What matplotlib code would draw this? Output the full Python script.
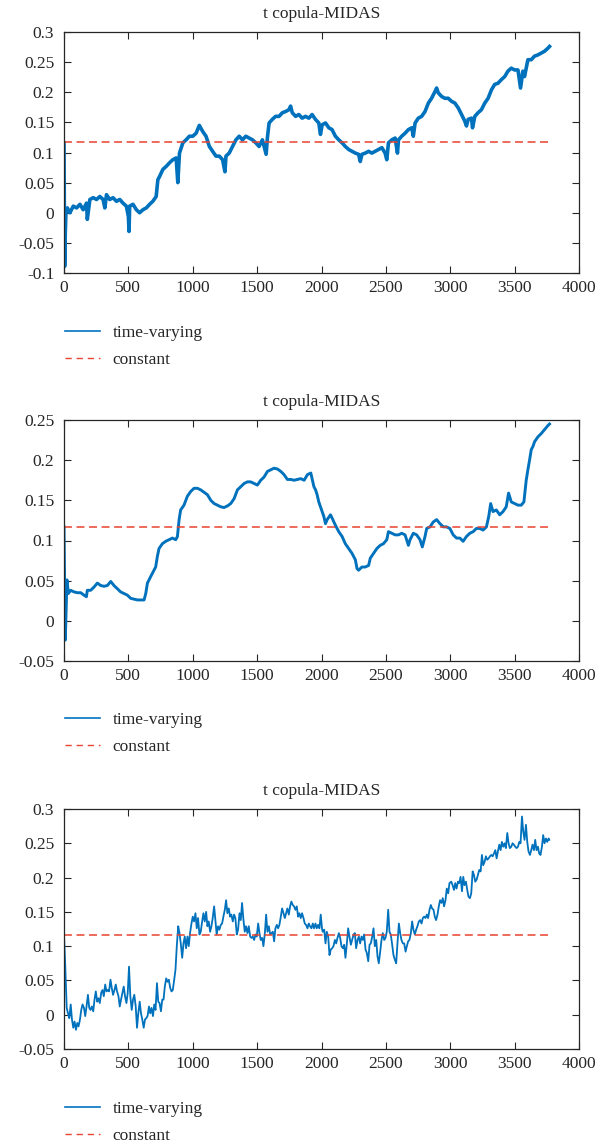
import numpy as np
import matplotlib
matplotlib.use("Agg")
import matplotlib.pyplot as plt
from matplotlib.ticker import FuncFormatter, MultipleLocator
from matplotlib.lines import Line2D

plt.rcParams['font.family'] = ['Liberation Serif', 'DejaVu Serif']
plt.rcParams['axes.unicode_minus'] = False

TITLE = "t copula-MIDAS"
LABELS = ["time-varying", "constant"]
CONST = 0.1166
T_END = 3780

# ---------------- Panel 1 ----------------
t1 = [0, 5, 10, 15, 26, 46, 72, 98, 124, 149,
      175, 181, 201, 227, 253, 278, 304, 317, 330, 355,
      381, 407, 433, 458, 484, 500, 505, 510, 536, 562,
      587, 613, 639, 665, 690, 716, 729, 742, 768, 794,
      820, 845, 871, 884, 897, 923, 948, 974, 1000, 1026,
      1051, 1077, 1103, 1129, 1155, 1180, 1206, 1232, 1250, 1258,
      1283, 1309, 1335, 1361, 1386, 1412, 1438, 1464, 1490, 1515,
      1541, 1570, 1580, 1593, 1618, 1644, 1670, 1696, 1721, 1747,
      1760, 1773, 1799, 1824, 1850, 1876, 1902, 1927, 1953, 1979,
      1992, 2005, 2031, 2057, 2082, 2108, 2134, 2160, 2185, 2211,
      2237, 2263, 2288, 2301, 2314, 2340, 2366, 2391, 2417, 2443,
      2469, 2494, 2507, 2520, 2546, 2572, 2590, 2598, 2623, 2649,
      2675, 2701, 2713, 2727, 2752, 2778, 2804, 2830, 2855, 2881,
      2894, 2907, 2933, 2958, 2984, 3010, 3036, 3062, 3088, 3113,
      3126, 3139, 3165, 3173, 3191, 3216, 3242, 3268, 3294, 3320,
      3345, 3371, 3397, 3423, 3448, 3474, 3500, 3526, 3546, 3564,
      3577, 3603, 3629, 3655, 3681, 3706, 3732, 3758, 3771]
v1 = [0.116, -0.089, -0.033, 0.000, 0.008, 0.000, 0.011, 0.008, 0.014, 0.005,
      0.016, -0.011, 0.022, 0.025, 0.022, 0.027, 0.022, 0.008, 0.030, 0.022,
      0.025, 0.019, 0.022, 0.016, 0.011, -0.006, -0.031, 0.011, 0.014, 0.005,
      0.000, 0.005, 0.008, 0.014, 0.019, 0.027, 0.055, 0.060, 0.072, 0.077,
      0.083, 0.088, 0.091, 0.050, 0.099, 0.116, 0.121, 0.127, 0.127, 0.132,
      0.145, 0.135, 0.127, 0.110, 0.102, 0.094, 0.094, 0.088, 0.068, 0.094,
      0.099, 0.110, 0.121, 0.127, 0.121, 0.127, 0.124, 0.121, 0.116, 0.110,
      0.121, 0.097, 0.125, 0.149, 0.155, 0.160, 0.160, 0.166, 0.168, 0.171,
      0.177, 0.166, 0.160, 0.163, 0.157, 0.160, 0.157, 0.163, 0.155, 0.149,
      0.130, 0.146, 0.149, 0.141, 0.138, 0.127, 0.121, 0.116, 0.110, 0.105,
      0.102, 0.099, 0.097, 0.085, 0.097, 0.099, 0.102, 0.099, 0.102, 0.105,
      0.108, 0.099, 0.088, 0.116, 0.121, 0.124, 0.099, 0.121, 0.127, 0.132,
      0.138, 0.141, 0.127, 0.149, 0.157, 0.160, 0.168, 0.182, 0.190, 0.201,
      0.207, 0.199, 0.193, 0.190, 0.190, 0.185, 0.182, 0.174, 0.163, 0.152,
      0.144, 0.155, 0.157, 0.141, 0.160, 0.166, 0.171, 0.182, 0.190, 0.204,
      0.213, 0.215, 0.221, 0.226, 0.235, 0.240, 0.237, 0.237, 0.207, 0.235,
      0.226, 0.254, 0.254, 0.260, 0.262, 0.265, 0.268, 0.273, 0.276]

# ---------------- Panel 2 ----------------
t2 = [0, 5, 10, 16, 23, 34, 52, 78, 104, 130,
      155, 174, 181, 207, 233, 259, 285, 311, 337, 363,
      388, 414, 440, 466, 492, 518, 544, 570, 596, 622,
      635, 648, 673, 699, 712, 725, 738, 764, 790, 816,
      842, 868, 881, 894, 906, 932, 958, 984, 1010, 1036,
      1062, 1088, 1114, 1140, 1166, 1191, 1217, 1243, 1269, 1295,
      1321, 1347, 1373, 1399, 1425, 1450, 1476, 1502, 1528, 1554,
      1580, 1606, 1632, 1658, 1684, 1709, 1735, 1761, 1787, 1813,
      1839, 1865, 1891, 1917, 1941, 1954, 1966, 1979, 1992, 2005,
      2018, 2031, 2044, 2070, 2082, 2108, 2134, 2160, 2185, 2211,
      2237, 2263, 2276, 2288, 2314, 2340, 2366, 2379, 2404, 2430,
      2456, 2481, 2507, 2520, 2546, 2572, 2598, 2623, 2649, 2675,
      2688, 2713, 2739, 2765, 2783, 2804, 2817, 2843, 2868, 2894,
      2920, 2946, 2971, 2997, 3023, 3049, 3075, 3100, 3126, 3152,
      3178, 3203, 3229, 3255, 3281, 3299, 3314, 3332, 3358, 3384,
      3410, 3435, 3453, 3474, 3500, 3526, 3551, 3572, 3590, 3603,
      3616, 3629, 3642, 3655, 3681, 3706, 3732, 3758, 3771]
v2 = [0.117, 0.042, -0.024, 0.009, 0.051, 0.034, 0.038, 0.036, 0.035, 0.035,
      0.032, 0.030, 0.038, 0.038, 0.042, 0.047, 0.044, 0.043, 0.044, 0.049,
      0.044, 0.040, 0.036, 0.034, 0.032, 0.028, 0.027, 0.026, 0.026, 0.026,
      0.034, 0.047, 0.055, 0.063, 0.067, 0.080, 0.090, 0.096, 0.099, 0.101,
      0.103, 0.101, 0.105, 0.126, 0.138, 0.144, 0.155, 0.161, 0.165, 0.165,
      0.163, 0.160, 0.157, 0.150, 0.146, 0.144, 0.142, 0.141, 0.143, 0.146,
      0.152, 0.163, 0.167, 0.171, 0.173, 0.173, 0.171, 0.169, 0.175, 0.179,
      0.186, 0.188, 0.190, 0.189, 0.186, 0.182, 0.176, 0.176, 0.175, 0.176,
      0.177, 0.175, 0.182, 0.184, 0.167, 0.163, 0.157, 0.148, 0.142, 0.136,
      0.130, 0.121, 0.126, 0.132, 0.128, 0.119, 0.111, 0.105, 0.096, 0.090,
      0.084, 0.076, 0.065, 0.063, 0.067, 0.067, 0.069, 0.078, 0.084, 0.090,
      0.094, 0.096, 0.101, 0.111, 0.109, 0.107, 0.107, 0.109, 0.107, 0.094,
      0.101, 0.109, 0.107, 0.101, 0.092, 0.105, 0.115, 0.117, 0.123, 0.126,
      0.121, 0.117, 0.117, 0.115, 0.107, 0.103, 0.103, 0.099, 0.105, 0.109,
      0.111, 0.115, 0.115, 0.113, 0.117, 0.130, 0.146, 0.136, 0.138, 0.132,
      0.136, 0.142, 0.159, 0.148, 0.146, 0.144, 0.144, 0.148, 0.175, 0.188,
      0.200, 0.213, 0.217, 0.223, 0.229, 0.233, 0.238, 0.243, 0.245]

# ---------------- Panel 3 ----------------
t3 = [0, 10, 21, 31, 41, 52, 62, 72, 82, 93, 103, 113, 124, 134, 144, 155, 165, 175, 186, 196, 206,
      216, 227, 237, 247, 258, 268, 278, 289, 299, 309, 320, 330, 340, 350, 361, 371, 381, 392, 402,
      412, 423, 433, 443, 454, 464, 474, 485, 495, 505, 515, 526, 536, 546, 557, 567, 577, 588, 598,
      608, 619, 629, 639, 649, 660, 670, 680, 691, 701, 711, 722, 732, 742, 753, 763, 773, 783, 794,
      804, 814, 825, 835, 845, 856, 866, 876, 887, 897, 907, 918, 928, 938, 948, 959, 969, 979, 990,
      1000, 1010, 1021, 1031, 1041, 1052, 1062, 1073, 1083, 1093, 1104, 1114, 1124, 1135, 1145, 1155,
      1166, 1176, 1186, 1197, 1207, 1218, 1228, 1238, 1249, 1259, 1269, 1280, 1290, 1300, 1311, 1321,
      1331, 1342, 1352, 1363, 1373, 1383, 1394, 1404, 1414, 1425, 1435, 1446, 1456, 1466, 1477, 1487,
      1497, 1508, 1518, 1528, 1539, 1549, 1560, 1570, 1580, 1591, 1601, 1611, 1622, 1632, 1642, 1653,
      1663, 1673, 1684, 1694, 1705, 1715, 1725, 1735, 1746, 1756, 1766, 1777, 1787, 1797, 1808, 1818,
      1828, 1839, 1849, 1860, 1870, 1880, 1891, 1901, 1911, 1922, 1932, 1942, 1953, 1963, 1973, 1984,
      1994, 2005, 2010, 2021, 2031, 2041, 2052, 2062, 2072, 2083, 2093, 2104, 2114, 2124, 2135, 2145,
      2155, 2166, 2176, 2186, 2197, 2207, 2217, 2228, 2238, 2249, 2259, 2269, 2280, 2290, 2300, 2311,
      2321, 2331, 2342, 2352, 2363, 2373, 2383, 2394, 2404, 2414, 2425, 2435, 2445, 2456, 2466, 2476,
      2487, 2497, 2507, 2518, 2528, 2538, 2549, 2559, 2570, 2580, 2590, 2601, 2611, 2621, 2632, 2642,
      2653, 2663, 2673, 2683, 2694, 2704, 2714, 2725, 2735, 2745, 2756, 2766, 2777, 2787, 2797, 2808,
      2818, 2828, 2839, 2849, 2859, 2870, 2880, 2890, 2901, 2911, 2921, 2932, 2942, 2952, 2963, 2973,
      2984, 2994, 3008, 3018, 3029, 3039, 3049, 3060, 3070, 3080, 3091, 3101, 3111, 3122, 3132, 3142,
      3153, 3163, 3174, 3184, 3194, 3205, 3215, 3225, 3236, 3246, 3256, 3267, 3277, 3287, 3298, 3308,
      3318, 3329, 3339, 3350, 3360, 3370, 3381, 3391, 3401, 3412, 3422, 3432, 3443, 3453, 3463, 3474,
      3484, 3494, 3505, 3515, 3526, 3536, 3546, 3557, 3567, 3577, 3588, 3598, 3608, 3619, 3629, 3639,
      3650, 3660, 3670, 3681, 3691, 3701, 3712, 3722, 3732, 3743, 3753, 3764, 3769]
v3 = [0.117, 0.070, 0.010, 0.002, -0.005, 0.015, -0.007, -0.019, -0.010, -0.022, -0.012, -0.017,
      -0.007, 0.007, 0.015, 0.010, -0.002, 0.012, 0.029, 0.010, 0.007, 0.012, 0.005, 0.022, 0.034,
      0.019, 0.024, 0.017, 0.032, 0.036, 0.027, 0.044, 0.034, 0.036, 0.034, 0.051, 0.039, 0.029,
      0.036, 0.044, 0.034, 0.027, 0.012, 0.022, 0.032, 0.041, 0.027, 0.017, 0.032, 0.070, 0.027,
      0.007, 0.022, 0.029, 0.012, -0.019, 0.002, 0.019, 0.002, -0.007, -0.019, -0.007, -0.005,
      -0.002, 0.012, 0.002, 0.010, -0.002, 0.015, 0.007, 0.046, 0.019, 0.017, 0.005, 0.022, 0.022,
      0.041, 0.053, 0.048, 0.051, 0.039, 0.034, 0.036, 0.051, 0.066, 0.100, 0.129, 0.119, 0.104,
      0.083, 0.104, 0.114, 0.097, 0.114, 0.100, 0.119, 0.133, 0.143, 0.136, 0.148, 0.126, 0.141,
      0.117, 0.121, 0.136, 0.148, 0.136, 0.150, 0.129, 0.136, 0.121, 0.129, 0.141, 0.158, 0.138,
      0.117, 0.129, 0.124, 0.131, 0.133, 0.143, 0.153, 0.167, 0.148, 0.155, 0.143, 0.146, 0.136,
      0.146, 0.141, 0.117, 0.124, 0.148, 0.138, 0.163, 0.138, 0.121, 0.129, 0.119, 0.129, 0.114,
      0.112, 0.114, 0.109, 0.117, 0.114, 0.133, 0.119, 0.109, 0.112, 0.100, 0.119, 0.146, 0.121,
      0.129, 0.117, 0.119, 0.121, 0.107, 0.126, 0.131, 0.126, 0.131, 0.143, 0.155, 0.148, 0.141,
      0.148, 0.155, 0.146, 0.158, 0.165, 0.160, 0.158, 0.153, 0.158, 0.143, 0.148, 0.141, 0.148,
      0.141, 0.133, 0.131, 0.126, 0.133, 0.129, 0.126, 0.133, 0.126, 0.133, 0.126, 0.131, 0.126,
      0.146, 0.124, 0.121, 0.124, 0.104, 0.121, 0.114, 0.087, 0.095, 0.097, 0.100, 0.109, 0.104,
      0.112, 0.119, 0.112, 0.100, 0.097, 0.102, 0.083, 0.104, 0.126, 0.114, 0.102, 0.109, 0.117,
      0.119, 0.097, 0.109, 0.114, 0.104, 0.114, 0.109, 0.117, 0.095, 0.090, 0.078, 0.102, 0.104,
      0.114, 0.126, 0.100, 0.109, 0.085, 0.075, 0.092, 0.109, 0.119, 0.109, 0.112, 0.121, 0.153,
      0.121, 0.117, 0.102, 0.087, 0.080, 0.075, 0.104, 0.133, 0.119, 0.109, 0.104, 0.104, 0.092,
      0.100, 0.107, 0.109, 0.119, 0.136, 0.124, 0.117, 0.124, 0.129, 0.136, 0.138, 0.133, 0.141,
      0.143, 0.141, 0.146, 0.141, 0.153, 0.160, 0.155, 0.153, 0.143, 0.138, 0.146, 0.158, 0.167,
      0.163, 0.170, 0.158, 0.167, 0.184, 0.177, 0.192, 0.194, 0.189, 0.182, 0.192, 0.184, 0.194,
      0.192, 0.201, 0.180, 0.201, 0.189, 0.194, 0.182, 0.172, 0.170, 0.177, 0.209, 0.204, 0.194,
      0.197, 0.204, 0.211, 0.209, 0.233, 0.218, 0.223, 0.231, 0.226, 0.228, 0.231, 0.233, 0.231,
      0.235, 0.240, 0.228, 0.238, 0.248, 0.240, 0.252, 0.245, 0.250, 0.243, 0.265, 0.250, 0.243,
      0.245, 0.250, 0.248, 0.245, 0.243, 0.245, 0.252, 0.250, 0.289, 0.267, 0.255, 0.277, 0.252,
      0.238, 0.233, 0.240, 0.248, 0.240, 0.255, 0.240, 0.245, 0.235, 0.233, 0.245, 0.262, 0.250,
      0.257, 0.252, 0.257, 0.255]

PANELS = [
    (t1, v1, (-0.1, 0.3), 0.05, 2.6),
    (t2, v2, (-0.05, 0.25), 0.05, 2.1),
    (t3, v3, (-0.05, 0.3), 0.05, 1.3),
]
XTICKS = list(range(0, 4001, 500))

BLUE = '#0072BD'
RED = '#E8432E'
DARK = '#262626'

W, H = 616, 1146
fig = plt.figure(figsize=(W / 100, H / 100), dpi=100)

# axes boxes in pixels: (left, top, right, bottom)
boxes = [(64, 32, 579, 273), (64, 420, 579, 661), (64, 809, 579, 1049)]
legend_tops = [325, 712, 1101]


def fmt(v, pos):
    s = '%g' % round(v, 4)
    return '0' if s in ('-0', '0') else s


for (t, v, ylim, ystep, lw), (l, tp, r, b), lt in zip(PANELS, boxes, legend_tops):
    n = min(len(t), len(v))
    ax = fig.add_axes([l / W, 1 - b / H, (r - l) / W, (b - tp) / H])
    ax.plot(t[:n], v[:n], color=BLUE, lw=lw)
    ax.plot([0, T_END], [CONST, CONST], color=RED, lw=1.1, dashes=(5.2, 3.0))
    ax.set_xlim(0, 4000)
    ax.set_ylim(*ylim)
    ax.set_xticks(XTICKS)
    ax.yaxis.set_major_locator(MultipleLocator(ystep))
    ax.yaxis.set_major_formatter(FuncFormatter(fmt))
    ax.tick_params(direction='in', top=True, right=True, length=5, width=0.8,
                   labelsize=12.5, colors=DARK)
    ax.tick_params(axis='x', pad=5)
    ax.tick_params(axis='y', pad=7)
    for sp in ax.spines.values():
        sp.set_color(DARK)
        sp.set_linewidth(0.9)
    ax.set_title(TITLE, fontsize=12.5, color=DARK, pad=10)
    handles = [Line2D([], [], color=BLUE, lw=1.2),
               Line2D([], [], color=RED, lw=1.0, dashes=(4.5, 3.5))]
    ax.legend(handles=handles, labels=LABELS, loc='upper left',
              bbox_to_anchor=(65 / W, 1 - lt / H), bbox_transform=fig.transFigure,
              frameon=False, fontsize=12.5, handlelength=2.0, handletextpad=0.75,
              labelspacing=0.62, borderaxespad=0, borderpad=0, labelcolor=DARK)

fig.savefig('out.png', dpi=100)
